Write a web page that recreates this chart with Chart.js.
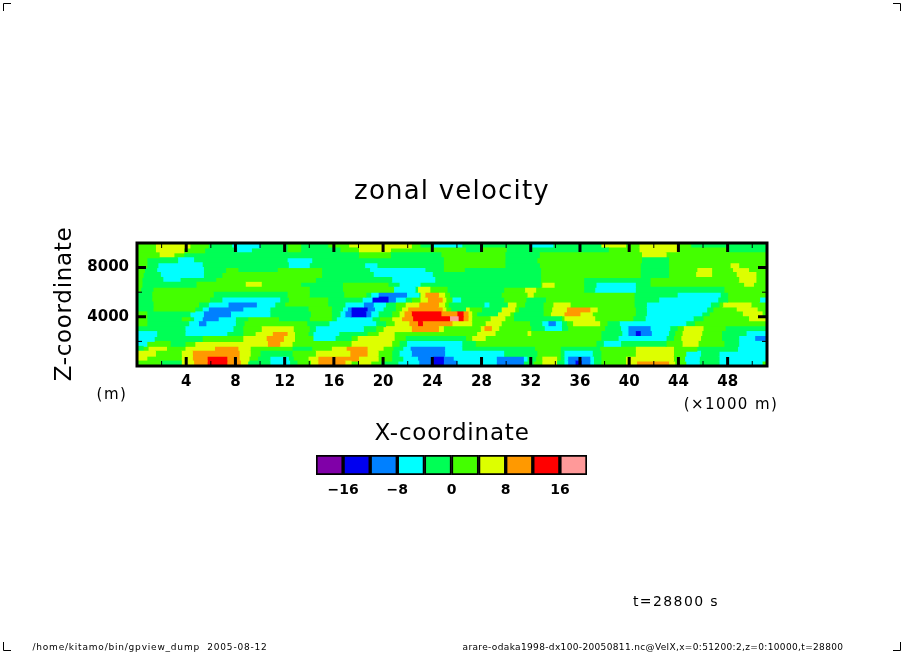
<!DOCTYPE html>
<html>
<head>
<meta charset="utf-8">
<title>zonal velocity</title>
<script src="https://cdn.jsdelivr.net/npm/chart.js@4"></script>
<style>
  html, body { margin: 0; padding: 0; background: #fff; }
  #field { position: absolute; left: 0; top: 0; }
  #colorbar { position: absolute; left: 300px; top: 445px; }
</style>
</head>
<body>
<canvas id="field" width="904" height="654"></canvas>
<canvas id="colorbar" width="300" height="60"></canvas>
<script>
// contour bands: each row is a height (z) and holds pairs of x end (km), band number
const row9800 = [1.5,5, 4.3,6, 5.8,5, 7.7,4, 10,3, 12.2,4, 13.3,5, 15.5,4, 17.2,5, 22.3,6, 23,5, 24.1,4, 26.4,3, 32,4, 33.8,3, 37.7,4, 39.7,6, 40.8,5, 43.9,6, 45,5, 51.2,4];
const row9400 = [1.5,5, 3.8,6, 5.5,5, 8.1,4, 9.3,3, 12.2,4, 13.3,5, 16.5,4, 18,5, 20.6,6, 26.7,5, 28,4, 30,5, 38.3,4, 40.8,5, 43.9,6, 47.9,5, 51.2,4];
const row9000 = [1.8,5, 3,6, 3.8,5, 18,4, 20.6,5, 24.7,4, 29.9,5, 32.7,4, 41,5, 43,6, 51.2,5];
const row8600 = [0.8,5, 3.3,4, 4.6,3, 12.2,4, 14.2,3, 24.9,4, 29.9,5, 32.5,4, 41,5, 43.2,4, 51.2,5];
const row8200 = [0.8,5, 1.7,4, 5.3,3, 12.3,4, 14,3, 18.5,4, 19.5,3, 24.9,4, 29.9,5, 32.7,4, 40.9,5, 43.2,4, 48.2,5, 48.9,6, 51.2,5];
const row7800 = [0.6,5, 1.6,4, 5.4,3, 7.2,4, 8.2,5, 11.4,4, 15,5, 18.9,4, 23.4,3, 24.9,4, 26.6,5, 32.8,4, 40.9,5, 43.2,4, 45.5,5, 46.7,6, 48.4,5, 49.7,6, 51.2,5];
const row7400 = [0.5,5, 1.9,4, 5.4,3, 6.9,4, 15,5, 19.2,4, 24,3, 32.8,4, 40.9,5, 43.2,4, 45.4,5, 46.7,6, 48.7,5, 50.3,6, 51.2,5];
const row7000 = [0.4,5, 2.1,4, 3.5,3, 6.4,4, 14.5,5, 20.7,4, 24.2,3, 32.8,4, 36.3,5, 41.7,4, 48.9,5, 50.3,6, 51.2,5];
const row6600 = [0.4,5, 4.8,4, 8.8,5, 10.1,6, 13.3,5, 16.7,4, 20.4,5, 21.3,4, 23,3, 32.8,4, 32.9,5, 33.9,6, 36.3,5, 37.3,4, 40.5,3, 41.7,4, 49.3,5, 50.1,6, 51.2,5];
const row6200 = [0.3,5, 1.3,4, 14,5, 16.7,4, 20.85,5, 22.6,3, 22.8,4, 23.8,6, 25.2,5, 29.8,4, 31.5,5, 32.4,6, 36.3,5, 37.2,4, 40.5,3, 47.7,4, 51.2,5];
const row5800 = [1.2,4, 6.2,5, 12.2,4, 14,5, 16.8,4, 18.6,5, 19,4, 19.6,3, 21.9,2, 22.9,3, 23,4, 23.4,6, 24.5,7, 25,6, 25.4,5, 29.6,4, 31.7,5, 32.2,6, 40.4,5, 43.9,4, 47.4,3, 48,4, 51.2,5];
const row5400 = [1.2,4, 5.9,5, 6.9,4, 11.6,3, 12.3,4, 15.5,5, 18.3,4, 19.1,3, 20.4,1, 21,2, 21.8,3, 22.3,4, 23,5, 23.6,6, 24.8,7, 25.1,6, 25.6,5, 26.3,3, 29.8,4, 31.6,5, 33.2,4, 40.4,5, 42.4,4, 47.2,3, 48,4, 50.6,5, 51.2,3];
const row5000 = [1.3,4, 5,5, 5.8,4, 7.4,3, 9.7,2, 11.2,3, 12,4, 15.5,5, 16.9,4, 18.4,3, 19.2,2, 20.2,3, 21,4, 21.8,5, 22.9,6, 24.5,7, 25,6, 25.3,5, 28.2,4, 28.6,3, 30.1,4, 30.8,6, 31.5,5, 33,4, 33.8,5, 35.2,6, 40.4,5, 41.4,4, 46.6,3, 47.3,4, 47.6,5, 49.9,6, 51.2,5];
const row4600 = [1.3,4, 4.7,5, 5.3,4, 5.8,3, 8.6,2, 10.8,3, 13.9,4, 15.8,5, 16.7,4, 17.1,3, 17.4,2, 18.7,1, 19.3,2, 20,3, 21,4, 21.5,5, 22,6, 24.8,7, 25.1,6, 25.5,5, 26.7,4, 27,6, 28,5, 29.6,4, 30.7,6, 31,5, 33,4, 33.7,5, 34.9,6, 36.8,7, 37.4,6, 40.5,5, 41.4,4, 46.3,3, 46.8,4, 48.7,5, 50.4,6, 51.2,5];
const row4200 = [0.8,5, 4.3,4, 5.4,3, 7.6,2, 10.8,3, 14.1,4, 15.8,5, 16.5,4, 16.9,3, 17.4,2, 18.6,1, 19,2, 19.6,3, 20.7,4, 21.3,5, 21.7,6, 22.3,7, 24.7,8, 26,7, 26.5,8, 26.9,7, 27.2,6, 27.6,5, 29.3,4, 30.3,6, 30.6,5, 33,4, 33.6,5, 34.7,6, 36,7, 37,6, 40.5,5, 41.4,4, 45.9,3, 46.5,4, 49.2,5, 50.8,6, 51.2,5];
const row3800 = [0.8,5, 3.6,4, 4.3,5, 4.6,4, 5.3,3, 6.6,2, 8,3, 9,4, 11.5,5, 14,4, 15.8,5, 16.2,4, 19.1,3, 19.7,4, 20.7,5, 21.5,6, 22.4,7, 25.4,8, 26.1,9, 26.5,8, 26.9,7, 27.2,6, 28.7,5, 29.9,6, 30.6,5, 34.5,4, 34.7,5, 37.2,6, 40.3,5, 41.3,4, 45.2,3, 46,4, 49.7,5, 51.2,6];
const row3400 = [0.8,5, 4.2,4, 5,3, 5.6,2, 8,3, 8.7,4, 13.8,5, 15.6,4, 19.4,3, 20.2,4, 20.9,5, 22.1,6, 22.8,7, 23.2,8, 25.6,7, 27.2,6, 28.3,5, 29.6,6, 31.9,5, 32.9,4, 33.4,3, 34,2, 34.5,3, 34.9,4, 35.4,5, 37.6,6, 38.2,5, 39.2,4, 44.6,3, 45.3,4, 51.2,5];
const row3000 = [3.9,4, 7.8,3, 8.6,4, 10.1,5, 12.7,6, 14,5, 14.5,4, 18.4,3, 19.4,4, 20,5, 22.3,6, 24.5,7, 24.9,6, 27.9,5, 28.2,6, 28.8,7, 29.4,6, 32,5, 33.1,4, 34.5,3, 35,4, 38,5, 39.3,4, 39.9,3, 41.7,2, 43.3,3, 43.9,4, 44.4,5, 46,6, 47.8,5, 51.2,4];
const row2600 = [1.6,3, 3.9,4, 7.3,3, 8.6,4, 9.6,5, 11,6, 12.2,7, 12.8,6, 13.9,5, 14.3,4, 16.4,3, 18.7,4, 19.6,5, 20.9,6, 27.6,5, 29.1,6, 31.7,5, 32,6, 37.7,5, 39.4,4, 39.9,3, 40.5,2, 40.9,1, 41.8,2, 43.2,3, 43.7,4, 44.3,5, 45.9,6, 47.5,5, 49.5,4, 51.2,3];
const row2200 = [1.4,3, 5.3,4, 8.6,5, 10.5,6, 11.9,7, 12.8,6, 14.3,5, 16.1,3, 17.4,4, 17.9,5, 20.9,6, 21.8,5, 26.7,4, 27.2,5, 28.3,6, 37.7,5, 39.1,4, 43,3, 43.6,4, 44.2,5, 45.8,6, 47.5,5, 48.9,4, 50.2,3, 51.2,2];
const row1800 = [0.8,3, 2.7,5, 3.9,4, 4.7,5, 10.6,6, 11.6,7, 12.6,6, 17.4,5, 20.7,6, 21.3,5, 21.9,4, 26.4,3, 27.5,4, 37.3,5, 37.9,4, 39.3,3, 43,4, 44.3,5, 45.6,6, 47.7,5, 48.9,4, 51.2,3];
const row1400 = [0.5,4, 0.9,5, 2.4,6, 3.9,5, 6.3,6, 8.2,7, 9.2,6, 12.6,5, 14.2,4, 15.8,5, 17,6, 18.7,7, 20,6, 20.8,5, 21.6,4, 22.2,3, 25,2, 26.4,3, 32.3,4, 34.4,5, 37.6,4, 40.5,5, 43.6,6, 45.5,5, 48.8,4, 51.2,3];
const row1000 = [1.5,6, 3.6,5, 4.5,6, 8.3,7, 9.2,6, 10,5, 12.6,4, 14.5,5, 17.3,6, 18.7,7, 19.6,6, 20.7,5, 21.3,4, 22.3,3, 25,2, 29.8,3, 32.5,4, 34.4,5, 34.7,4, 37,3, 37.7,4, 40.5,5, 43.6,6, 44.6,5, 45.8,3, 47.3,4, 51.2,3];
const row600 = [0.8,6, 3.6,5, 4.5,6, 5.7,7, 7.3,8, 8.3,7, 9.1,6, 9.8,5, 10.8,4, 12.3,3, 12.7,4, 13.9,5, 14.7,6, 18,7, 19.6,6, 20.7,5, 21.6,4, 22.8,3, 24,2, 24.9,1, 25.7,2, 29.2,3, 31.4,2, 31.7,3, 32.4,4, 32.9,5, 34.1,6, 34.4,5, 34.7,4, 35,3, 36.8,2, 37.1,3, 37.7,4, 39.7,5, 40.5,6, 43.6,6, 44.5,5, 45.7,3, 47.3,4, 51.2,3];
const row200 = [1.9,5, 3.6,4, 4.6,6, 5.7,7, 7.3,8, 8.4,7, 9,6, 10.8,4, 12.4,3, 13,4, 14.1,5, 14.7,6, 16.9,7, 17.4,6, 18,5, 19,6, 19.8,5, 21.2,4, 22.9,3, 24,2, 24.9,1, 26,2, 29.2,3, 31.4,2, 32.2,4, 32.9,5, 34.1,6, 34.7,4, 35,3, 35.6,2, 36.1,1, 36.8,2, 37.1,3, 37.7,4, 39.7,5, 40.6,6, 43.2,7, 43.7,6, 44.6,5, 45.7,3, 47.3,4, 50.8,3, 51.2,5];

const bandRows = [row9800, row9400, row9000, row8600, row8200, row7800, row7400, row7000, row6600, row6200,
  row5800, row5400, row5000, row4600, row4200, row3800, row3400, row3000, row2600, row2200,
  row1800, row1400, row1000, row600, row200];
const rowHeights = [9800, 9400, 9000, 8600, 8200, 7800, 7400, 7000, 6600, 6200, 5800, 5400, 5000, 4600, 4200,
  3800, 3400, 3000, 2600, 2200, 1800, 1400, 1000, 600, 200];

const bandLimits = [-20, -16, -12, -8, -4, 0, 4, 8, 12, 16, 20];
const bandColors = ['#8000a8', '#0000f0', '#0080ff', '#00ffff', '#00ff55', '#44ff00', '#ddff00', '#ff9900', '#ff0000', '#ff9999'];
const barLabels = [-16, -8, 0, 8, 16];

const xMajor = [4, 8, 12, 16, 20, 24, 28, 32, 36, 40, 44, 48];
const xMinor = [2, 6, 10, 14, 18, 22, 26, 30, 34, 38, 42, 46, 50];
const zMajor = [4000, 8000];
const zMinor = [2000, 6000];

// one dataset per position in the row, bars overlap on the y category
const runCount = Math.max(...bandRows.map(r => r.length / 2));
const fieldSets = [];
for (let i = 0; i < runCount; i++) {
  fieldSets.push({
    data: bandRows.map(r => i * 2 < r.length ? [i === 0 ? 0 : r[i * 2 - 2], r[i * 2]] : null),
    backgroundColor: bandRows.map(r => i * 2 < r.length ? bandColors[r[i * 2 + 1]] : 'transparent'),
    borderWidth: 0,
    inflateAmount: 0.5,
    barPercentage: 1,
    categoryPercentage: 1,
  });
}

const textFont = '"DejaVu Sans"';
function putText(ctx, text, x, y, size, spacing, weight, align) {
  ctx.font = (weight || 'normal') + ' ' + size + 'px ' + textFont;
  ctx.letterSpacing = (spacing || 0) + 'px';
  ctx.textAlign = align || 'center';
  ctx.textBaseline = 'alphabetic';
  ctx.fillStyle = '#000';
  ctx.fillText(text, x, y);
}

const framePlugin = {
  id: 'frame',
  afterDraw(chart) {
    const { ctx, chartArea: a, scales } = chart;
    const xs = scales.x, zs = scales.yTicks;
    ctx.save();
    ctx.strokeStyle = '#000';
    ctx.lineWidth = 3;
    ctx.strokeRect(a.left, a.top, a.right - a.left, a.bottom - a.top);
    const mark = (list, len, w) => {
      ctx.lineWidth = w;
      ctx.beginPath();
      list.forEach(v => {
        const p = xs.getPixelForValue(v);
        ctx.moveTo(p, a.top); ctx.lineTo(p, a.top + len);
        ctx.moveTo(p, a.bottom); ctx.lineTo(p, a.bottom - len);
      });
      ctx.stroke();
    };
    const markZ = (list, len, w) => {
      ctx.lineWidth = w;
      ctx.beginPath();
      list.forEach(v => {
        const p = zs.getPixelForValue(v);
        ctx.moveTo(a.left, p); ctx.lineTo(a.left + len, p);
        ctx.moveTo(a.right, p); ctx.lineTo(a.right - len, p);
      });
      ctx.stroke();
    };
    mark(xMajor, 9, 3); mark(xMinor, 5, 1);
    markZ(zMajor, 9, 3); markZ(zMinor, 5, 1);

    // corner marks of the page
    ctx.lineWidth = 1;
    ctx.beginPath();
    ctx.moveTo(3.5, 11); ctx.lineTo(3.5, 3.5); ctx.lineTo(11, 3.5);
    ctx.moveTo(893, 3.5); ctx.lineTo(900.5, 3.5); ctx.lineTo(900.5, 11);
    ctx.moveTo(3.5, 642); ctx.lineTo(3.5, 650.5); ctx.lineTo(11, 650.5);
    ctx.moveTo(893, 650.5); ctx.lineTo(900.5, 650.5); ctx.lineTo(900.5, 642);
    ctx.stroke();

    putText(ctx, 'zonal velocity', 452, 199, 26, 1.2);
    putText(ctx, 'X-coordinate', 452, 440, 23, 0.8);
    putText(ctx, '(m)', 112, 399, 15, 1.5);
    putText(ctx, '(×1000 m)', 731, 409, 15, 1.4);
    putText(ctx, 't=28800 s', 676, 606, 14, 1.4);
    putText(ctx, '/home/kitamo/bin/gpview_dump  2005-08-12', 150, 650, 9, 0.8);
    putText(ctx, 'arare-odaka1998-dx100-20050811.nc@VelX,x=0:51200:2,z=0:10000,t=28800', 653, 650, 9, 0.35);
    ctx.save();
    ctx.translate(71, 304);
    ctx.rotate(-Math.PI / 2);
    putText(ctx, 'Z-coordinate', 0, 0, 23, 0.7);
    ctx.restore();
    ctx.restore();
  }
};

new Chart(document.getElementById('field'), {
  type: 'bar',
  data: { labels: rowHeights, datasets: fieldSets },
  plugins: [framePlugin],
  options: {
    indexAxis: 'y',
    responsive: false,
    animation: false,
    layout: { padding: { left: 67, right: 137, top: 243, bottom: 258 } },
    plugins: { legend: { display: false }, tooltip: { enabled: false } },
    scales: {
      x: {
        type: 'linear', min: 0, max: 51.2,
        grid: { display: false, drawTicks: false }, border: { display: false },
        afterFit(s) { s.height = 30; },
        afterBuildTicks(s) { s.ticks = xMajor.map(v => ({ value: v })); },
        ticks: {
          maxRotation: 0, autoSkip: false, padding: 7, color: '#000',
          font: { family: textFont, size: 15, weight: 'bold' },
          callback: v => String(v),
        },
      },
      y: { type: 'category', display: false, stacked: true },
      yTicks: {
        axis: 'y', type: 'linear', position: 'left', min: 0, max: 10000, offset: false,
        grid: { display: false, drawTicks: false, offset: false }, border: { display: false },
        afterFit(s) { s.width = 70; },
        afterBuildTicks(s) { s.ticks = zMajor.map(v => ({ value: v })); },
        ticks: {
          autoSkip: false, padding: 8, color: '#000',
          font: { family: textFont, size: 15, weight: 'bold' },
          callback: v => String(v),
        },
      },
    },
  },
});

new Chart(document.getElementById('colorbar'), {
  type: 'bar',
  data: {
    labels: ['velocity'],
    datasets: bandColors.map((c, i) => ({
      data: [[bandLimits[i], bandLimits[i + 1]]],
      backgroundColor: c,
      borderColor: '#000',
      borderWidth: 2,
      borderSkipped: false,
      barPercentage: 1,
      categoryPercentage: 1,
    })),
  },
  options: {
    indexAxis: 'y',
    responsive: false,
    animation: false,
    layout: { padding: { left: 16, right: 13, top: 10, bottom: 6 } },
    plugins: { legend: { display: false }, tooltip: { enabled: false } },
    scales: {
      x: {
        type: 'linear', min: -20, max: 20,
        grid: { display: false, drawTicks: false }, border: { display: false },
        afterBuildTicks(s) { s.ticks = barLabels.map(v => ({ value: v })); },
        afterFit(s) { s.height = 24; },
        ticks: {
          autoSkip: false, maxRotation: 0, padding: 7, color: '#000',
          font: { family: textFont, size: 14, weight: 'bold' },
          callback: v => String(v).replace('-', '−'),
        },
      },
      y: { display: false, stacked: true },
    },
  },
});
</script>
</body>
</html>
